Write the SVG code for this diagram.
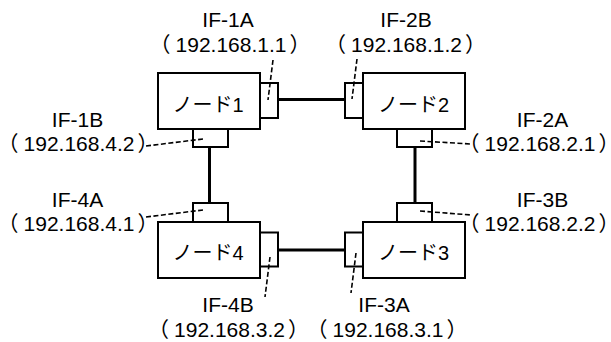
<svg xmlns="http://www.w3.org/2000/svg" width="611" height="342" viewBox="0 0 611 342">
<style>
  .node { fill: #fff; stroke: #000; stroke-width: 2; }
  .if { fill: #fff; stroke: #000; stroke-width: 2; }
  .link { stroke: #000; stroke-width: 3; fill: none; }
  .lead { stroke: #000; stroke-width: 1.6; stroke-dasharray: 5 2.5; fill: none; }
  text { font-family: "Liberation Sans", "Noto Sans CJK JP", sans-serif; font-size: 21px; fill: #000; text-anchor: middle; }
  .addr { font-feature-settings: "halt" 1; }
  .nl { font-size: 20px; }
</style>
<rect width="611" height="342" fill="#fff"/>
<g id="connectors">
  <line class="link" x1="278" y1="99.5" x2="345" y2="99.5"/>
  <line class="link" x1="278" y1="250" x2="345" y2="250"/>
  <line class="link" x1="209.5" y1="147" x2="209.5" y2="203"/>
  <line class="link" x1="415" y1="147" x2="415" y2="203"/>
</g>
<g id="node1">
  <rect class="node" x="158" y="73" width="102" height="56"/>
  <text class="nl" x="208" y="111.5">ノード1</text>
</g>
<g id="node2">
  <rect class="node" x="363" y="73" width="102" height="56"/>
  <text class="nl" x="413.5" y="111.5">ノード2</text>
</g>
<g id="node3">
  <rect class="node" x="363" y="222" width="102" height="56"/>
  <text class="nl" x="413.5" y="259.5">ノード3</text>
</g>
<g id="node4">
  <rect class="node" x="158" y="222" width="102" height="56"/>
  <text class="nl" x="208" y="259.5">ノード4</text>
</g>
<g id="if-1a">
  <rect class="if" x="260" y="83" width="18" height="35"/>
  <line class="lead" x1="273" y1="60" x2="268" y2="100"/>
  <text x="228" y="27">IF-1A</text>
  <text class="addr" x="230" y="52">（<tspan dx="5">192.168.1.1</tspan><tspan dx="3">）</tspan></text>
</g>
<g id="if-1b">
  <rect class="if" x="193" y="129" width="35" height="18"/>
  <line class="lead" x1="146" y1="146" x2="203" y2="139"/>
  <text x="77.5" y="127">IF-1B</text>
  <text class="addr" x="78" y="151">（<tspan dx="5">192.168.4.2</tspan><tspan dx="3">）</tspan></text>
</g>
<g id="if-2b">
  <rect class="if" x="345" y="83" width="18" height="35"/>
  <line class="lead" x1="357" y1="59" x2="352" y2="99"/>
  <text x="406" y="27">IF-2B</text>
  <text class="addr" x="405.5" y="52">（<tspan dx="5">192.168.1.2</tspan><tspan dx="3">）</tspan></text>
</g>
<g id="if-2a">
  <rect class="if" x="397" y="129" width="35" height="18"/>
  <line class="lead" x1="420" y1="141" x2="471" y2="144"/>
  <text x="542.5" y="127">IF-2A</text>
  <text class="addr" x="539" y="151">（<tspan dx="5">192.168.2.1</tspan><tspan dx="3">）</tspan></text>
</g>
<g id="if-4a">
  <rect class="if" x="193" y="203" width="35" height="19"/>
  <line class="lead" x1="146" y1="217" x2="203" y2="210"/>
  <text x="77.5" y="207">IF-4A</text>
  <text class="addr" x="78" y="231">（<tspan dx="5">192.168.4.1</tspan><tspan dx="3">）</tspan></text>
</g>
<g id="if-3b">
  <rect class="if" x="397" y="203" width="35" height="19"/>
  <line class="lead" x1="420" y1="211" x2="471" y2="215"/>
  <text x="542.5" y="207">IF-3B</text>
  <text class="addr" x="539" y="231">（<tspan dx="5">192.168.2.2</tspan><tspan dx="3">）</tspan></text>
</g>
<g id="if-4b">
  <rect class="if" x="260" y="232.5" width="18" height="34"/>
  <line class="lead" x1="270" y1="257" x2="265" y2="297"/>
  <text x="228" y="312">IF-4B</text>
  <text class="addr" x="228.5" y="337">（<tspan dx="5">192.168.3.2</tspan><tspan dx="3">）</tspan></text>
</g>
<g id="if-3a">
  <rect class="if" x="345" y="232.5" width="18" height="34"/>
  <line class="lead" x1="356" y1="253" x2="351" y2="293"/>
  <text x="384" y="312">IF-3A</text>
  <text class="addr" x="387" y="337">（<tspan dx="5">192.168.3.1</tspan><tspan dx="3">）</tspan></text>
</g>
</svg>
